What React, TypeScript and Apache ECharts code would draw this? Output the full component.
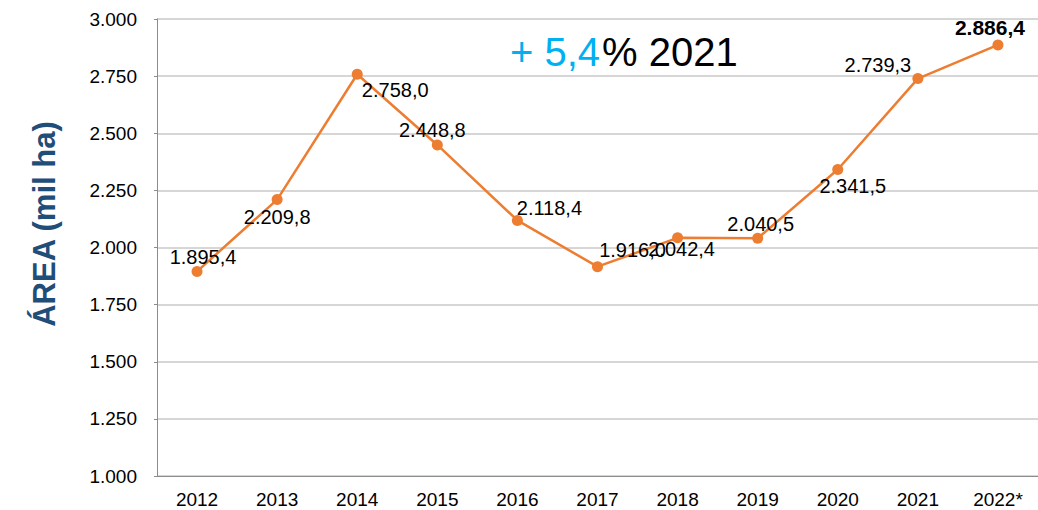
import React, { useEffect, useRef } from "react";
import * as echarts from "echarts";

const categories = ["2012", "2013", "2014", "2015", "2016", "2017", "2018", "2019", "2020", "2021", "2022*"];
const areaValues = [1895.4, 2209.8, 2758.0, 2448.8, 2118.4, 1916.0, 2042.4, 2040.5, 2341.5, 2739.3, 2886.4];
const yTicks = { min: 1000, max: 3000, interval: 250 };
const yTitle = "ÁREA (mil ha)";
const noteBlue = "+ 5,4";
const noteBlack = "% 2021";

// label placement (style only)
const labelOffsets: [number, number][] = [
  [6, -14], [0, 17], [38, 16], [-5, -15], [32, -12], [35, -17],
  [4, 11], [3, -14], [15, 17], [-40, -14], [-8, -17],
];

const FONT = "'Liberation Sans', Arial, sans-serif";

function fmtThousands(s: string) {
  return s.replace(/\B(?=(\d{3})+(?!\d))/g, ".");
}
function fmtValue(v: number) {
  const [i, d] = v.toFixed(1).split(".");
  return fmtThousands(i) + "," + d;
}

export default function App() {
  const ref = useRef<HTMLDivElement>(null);
  useEffect(() => {
    if (!ref.current) return;
    const chart = echarts.init(ref.current, undefined, { renderer: "svg" });
    const last = areaValues.length - 1;
    chart.setOption({
      animation: false,
      backgroundColor: "#ffffff",
      textStyle: { fontFamily: FONT },
      grid: { left: 157, right: 0, top: 19, bottom: 34, containLabel: false },
      xAxis: {
        type: "category",
        data: categories,
        boundaryGap: true,
        axisLine: { lineStyle: { color: "#8c8c8c", width: 1 } },
        axisTick: { show: false },
        axisLabel: { color: "#000", fontSize: 19, fontFamily: FONT, margin: 14 },
        splitLine: { show: false },
      },
      yAxis: {
        type: "value",
        min: yTicks.min,
        max: yTicks.max,
        interval: yTicks.interval,
        axisLine: { show: true, lineStyle: { color: "#8c8c8c", width: 1 } },
        axisTick: { show: true, length: 3, lineStyle: { color: "#8c8c8c" } },
        axisLabel: {
          color: "#000",
          fontSize: 19,
          fontFamily: FONT,
          margin: 20,
          formatter: (v: number) => fmtThousands(String(Math.round(v))),
        },
        splitLine: { show: true, lineStyle: { color: "#c8c8c8", width: 1.5 } },
      },
      series: [
        {
          type: "line",
          data: areaValues.map((v, i) => ({
            value: v,
            label: {
              show: true,
              position: "inside",
              offset: labelOffsets[i],
              color: "#000",
              fontSize: i === last ? 21 : 20,
              fontWeight: i === last ? "bold" : "normal",
              fontFamily: FONT,
              formatter: () => fmtValue(v),
            },
          })),
          symbol: "circle",
          symbolSize: 11,
          lineStyle: { color: "#ED7D31", width: 2.5 },
          itemStyle: { color: "#ED7D31" },
          z: 3,
        },
      ],
      graphic: [
        {
          type: "text",
          x: 44,
          y: 224,
          rotation: Math.PI / 2,
          style: {
            text: yTitle,
            fill: "#1F4E79",
            font: `bold 31px ${FONT}`,
            align: "center",
            verticalAlign: "middle",
          },
        },
        {
          type: "text",
          x: 510,
          y: 52,
          style: {
            text: noteBlue,
            fill: "#00B0F0",
            font: `40px ${FONT}`,
            align: "left",
            verticalAlign: "middle",
          },
        },
        {
          type: "text",
          x: 602,
          y: 52,
          style: {
            text: noteBlack,
            fill: "#000000",
            font: `40px ${FONT}`,
            align: "left",
            verticalAlign: "middle",
          },
        },
      ],
    });
    return () => chart.dispose();
  }, []);
  return (
    <div
      ref={ref}
      style={{ position: "fixed", left: 0, top: 0, width: 1038, height: 510, background: "#fff" }}
    />
  );
}
